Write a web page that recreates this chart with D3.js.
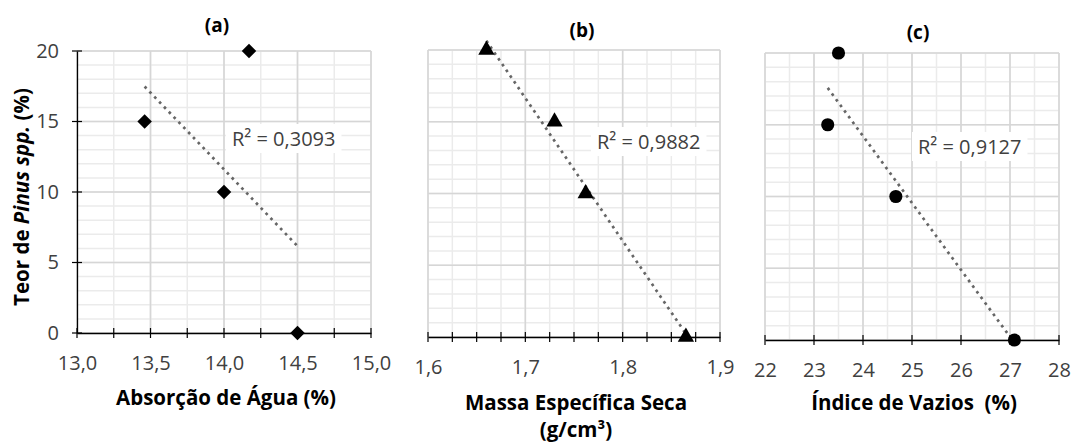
<!DOCTYPE html>
<html lang="pt">
<head>
    <meta charset="UTF-8">
    <title>Teor de Pinus spp.</title>
    <script src="https://d3js.org/d3.v7.min.js"></script>
    <style>
        body { margin: 0; background: #fff; }
        text { font-family: "Open Sans", sans-serif; }
    </style>
</head>
<body>
<div id="graf"></div>
<script>
    // ------------------------------ donnees ------------------------------
    const absorcao = [13.46, 14.0, 14.17, 14.5];
    const teorA = [15, 10, 20, 0];

    const massa = [1.66, 1.73, 1.762, 1.865];
    const teorB = [20, 15, 10, 0];

    const vazios = [23.5, 23.28, 24.67, 27.09];
    const teorC = [20, 15, 10, 0];

    const yTicks = [0, 5, 10, 15, 20];
    const xTicksA = [13.0, 13.5, 14.0, 14.5, 15.0];
    const xTicksB = [1.6, 1.7, 1.8, 1.9];
    const xTicksC = [22, 23, 24, 25, 26, 27, 28];

    const titulos = ["(a)", "(b)", "(c)"];
    const r2 = ["R² = 0,3093", "R² = 0,9882", "R² = 0,9127"];
    const eixoX = [["Absorção de Água (%)"], ["Massa Específica Seca", "(g/cm³)"], ["Índice de Vazios  (%)"]];

    // ------------------------------ mise en page ------------------------------
    const W = 1073, H = 443;
    const pt = d3.formatLocale({decimal: ",", thousands: ".", grouping: [3], currency: ["", ""]});
    const FS = 20;   // textes gris
    const FB = 20.5; // titres en gras

    const paineis = [
        {xs: absorcao, ys: teorA, ticks: xTicksA, dom: [13, 15], px: [77, 371], py: [333, 51],
         minX: 0.25, fmt: pt.format(".1f"), simb: d3.symbolSquare, tam: 105, rot: 45, yAxis: true, minTicks: true,
         r2pos: [232, 139], tpos: [217, 25]},
        {xs: massa, ys: teorB, ticks: xTicksB, dom: [1.6, 1.9], px: [428, 720], py: [337, 50],
         minX: 0.025, fmt: pt.format(".1f"), simb: d3.symbolTriangle, tam: 115, rot: 0, yAxis: false, minTicks: true,
         r2pos: [597, 142], tpos: [582, 30]},
        {xs: vazios, ys: teorC, ticks: xTicksC, dom: [22, 28], px: [765, 1059], py: [340, 53],
         minX: 0.5, fmt: d3.format("d"), simb: d3.symbolCircle, tam: 135, rot: 0, yAxis: false, minTicks: false,
         r2pos: [918, 147], tpos: [918, 32]}
    ];

    const svg = d3.select("#graf").append("svg").attr("width", W).attr("height", H);

    function regressao(xs, ys) {
        const mx = d3.mean(xs), my = d3.mean(ys);
        let sxy = 0, sxx = 0;
        xs.forEach((x, i) => { sxy += (x - mx) * (ys[i] - my); sxx += (x - mx) * (x - mx); });
        const b = sxy / sxx;
        return x => my + b * (x - mx);
    }

    paineis.forEach((p, k) => {
        const x = d3.scaleLinear().domain(p.dom).range(p.px);
        const y = d3.scaleLinear().domain([0, 20]).range(p.py);
        const g = svg.append("g");

        // grille mineure
        const nMinX = Math.round((p.dom[1] - p.dom[0]) / p.minX);
        const minXs = d3.range(nMinX + 1).map(i => p.dom[0] + i * p.minX);
        g.selectAll(".vmin").data(minXs).join("line")
            .attr("x1", d => x(d)).attr("x2", d => x(d)).attr("y1", y(0)).attr("y2", y(20))
            .attr("stroke", "#ebebeb").attr("stroke-width", 1.5);
        g.selectAll(".hmin").data(d3.range(0, 21)).join("line")
            .attr("x1", p.px[0]).attr("x2", p.px[1]).attr("y1", d => y(d)).attr("y2", d => y(d))
            .attr("stroke", "#ebebeb").attr("stroke-width", 1.5);
        // grille majeure
        g.selectAll(".vmaj").data(p.ticks).join("line")
            .attr("x1", d => x(d)).attr("x2", d => x(d)).attr("y1", y(0)).attr("y2", y(20))
            .attr("stroke", "#d6d6d6").attr("stroke-width", 1.6);
        g.selectAll(".hmaj").data(yTicks).join("line")
            .attr("x1", p.px[0]).attr("x2", p.px[1]).attr("y1", d => y(d)).attr("y2", d => y(d))
            .attr("stroke", "#d6d6d6").attr("stroke-width", 1.6);

        // axe x
        const axX = d3.axisBottom(x).tickValues(p.ticks).tickFormat(p.fmt).tickSize(0).tickPadding(23);
        const gx = g.append("g").attr("transform", `translate(0,${y(0)})`).call(axX);
        gx.attr("font-size", FS).attr("font-family", "Open Sans, sans-serif");
        gx.select(".domain").attr("stroke", "#000").attr("stroke-width", 1.3);
        gx.selectAll("text").attr("fill", "#404040");
        const tk = p.minTicks ? minXs : p.ticks;
        g.selectAll(".tk").data(tk).join("line")
            .attr("x1", d => x(d)).attr("x2", d => x(d)).attr("y1", y(0) - 5).attr("y2", y(0) + 5)
            .attr("stroke", "#000").attr("stroke-width", 1.2);

        // axe y
        if (p.yAxis) {
            const axY = d3.axisLeft(y).tickValues(yTicks).tickSize(0).tickPadding(18);
            const gy = g.append("g").attr("transform", `translate(${p.px[0]},0)`).call(axY);
            gy.attr("font-size", FS).attr("font-family", "Open Sans, sans-serif");
            gy.select(".domain").attr("stroke", "#000").attr("stroke-width", 1.3);
            gy.selectAll("text").attr("fill", "#404040");
            g.selectAll(".tky").data(yTicks).join("line")
                .attr("x1", p.px[0] - 5).attr("x2", p.px[0] + 5).attr("y1", d => y(d)).attr("y2", d => y(d))
                .attr("stroke", "#000").attr("stroke-width", 1.2);
        }

        // tendance
        const f = regressao(p.xs, p.ys);
        const x0 = d3.min(p.xs), x1 = d3.max(p.xs);
        g.append("line")
            .attr("x1", x(x0)).attr("y1", y(f(x0))).attr("x2", x(x1)).attr("y2", y(f(x1)))
            .attr("stroke", "#666").attr("stroke-width", 2.7)
            .attr("stroke-dasharray", "2.7 4.3");

        // points
        g.selectAll(".pt").data(p.xs).join("path")
            .attr("d", d3.symbol().type(p.simb).size(p.tam))
            .attr("transform", (d, i) => `translate(${x(d)},${y(p.ys[i])}) rotate(${p.rot})`)
            .attr("fill", "#000");

        // R2
        const box = g.append("rect").attr("fill", "#fff");
        const t = g.append("text").attr("x", p.r2pos[0]).attr("y", p.r2pos[1]).attr("dy", "0.35em")
            .attr("font-size", FS).attr("fill", "#404040").text(r2[k]);
        const bb = t.node().getBBox();
        box.attr("x", bb.x - 6).attr("y", bb.y - 1).attr("width", bb.width + 12).attr("height", bb.height + 2);

        // titre
        g.append("text").attr("x", p.tpos[0]).attr("y", p.tpos[1]).attr("dy", "0.35em")
            .attr("text-anchor", "middle").attr("font-weight", "bold").attr("font-size", 19)
            .attr("fill", "#000").text(titulos[k]);

        // titre axe x
        eixoX[k].forEach((l, j) => {
            g.append("text").attr("x", (p.px[0] + p.px[1]) / 2 + 2).attr("y", 398 + (k > 0 ? 5 : 0) + j * 27)
                .attr("dy", "0.35em").attr("text-anchor", "middle").attr("font-weight", "bold")
                .attr("font-size", FB).attr("fill", "#000").style("white-space", "pre").text(l);
        });
    });

    // titre axe y
    const ty = svg.append("text").attr("transform", "translate(22,197) rotate(-90)")
        .attr("dy", "0.35em").attr("text-anchor", "middle").attr("font-weight", "bold")
        .attr("font-size", FB).attr("fill", "#000");
    ty.append("tspan").text("Teor de ");
    ty.append("tspan").attr("font-style", "italic").text("Pinus spp.");
    ty.append("tspan").text(" (%)");
</script>
</body>
</html>
